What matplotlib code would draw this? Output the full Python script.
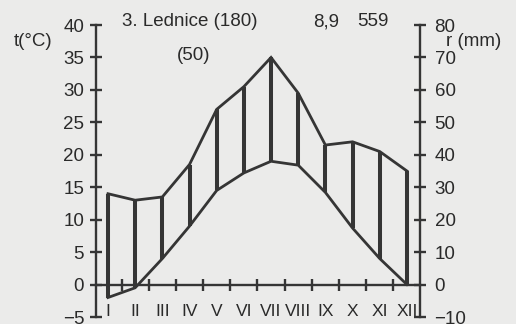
import matplotlib.pyplot as plt
import numpy as np

plt.rcParams['font.family'] = ['Liberation Sans', 'DejaVu Sans']

months = ['I', 'II', 'III', 'IV', 'V', 'VI', 'VII', 'VIII', 'IX', 'X', 'XI', 'XII']
temp = [-2.0, -0.5, 4.0, 9.0, 14.5, 17.2, 19.0, 18.4, 14.2, 8.7, 4.0, 0.0]
rain = [28, 26, 27, 37, 54, 61, 70, 59, 43, 44, 41, 35]

station = '3. Lednice (180)'
years = '(50)'
mean_temp = '8,9'
total_rain = '559'

ink = '#353535'
tc = '#2a2a2a'
bg = '#ebebea'

x = np.arange(1, 13)

fig = plt.figure(figsize=(5.16, 3.24), dpi=100, facecolor=bg)
ax = fig.add_axes([96 / 516, 1 - 317 / 324, 324 / 516, 292 / 324])
ax.set_facecolor('none')
ax2 = ax.twinx()

ax.set_xlim(0.56, 12.48)
ax.set_ylim(-5, 40)
ax2.set_ylim(-10, 80)

# temperature and rainfall curves (rain on 2:1 scale)
ax.plot(x, temp, color=ink, lw=2.0, solid_joinstyle='miter')
ax2.plot(x, rain, color=ink, lw=2.0, solid_joinstyle='miter')
ax2.vlines(x, np.array(temp) * 2, rain, color=ink, lw=2.9)

# axes styling
for a in (ax, ax2):
    a.spines['top'].set_visible(False)
    for s in ('left', 'right', 'bottom'):
        a.spines[s].set_color(ink)
        a.spines[s].set_linewidth(1.7)
ax.spines['right'].set_visible(False)
ax2.spines['left'].set_visible(False)
ax2.spines['bottom'].set_visible(False)
ax.spines['bottom'].set_position(('data', 0))

ax.set_yticks(np.arange(-5, 41, 5))
ax2.set_yticks(np.arange(-10, 81, 10))
ax.tick_params(axis='y', direction='inout', length=9, width=1.7, color=ink,
               labelsize=13.5, labelcolor=tc, pad=4)
ax2.tick_params(axis='y', direction='inout', length=9, width=1.7, color=ink,
                labelsize=13.5, labelcolor=tc, pad=6)

ax.set_xticks(x)
ax.set_xticklabels(months)
ax.set_xticks(np.arange(1.5, 12, 1), minor=True)
ax.tick_params(axis='x', which='major', length=0, labelsize=12.5,
               labelcolor=tc, pad=14)
ax.tick_params(axis='x', which='minor', direction='inout', length=9,
               width=1.7, color=ink)

fig.text(33 / 516, 1 - 42 / 324, 't(°C)', ha='center', va='center', fontsize=13.5, color=tc)
fig.text(190 / 516, 1 - 22 / 324, station, ha='center', va='center', fontsize=13.5, color=tc)
fig.text(194 / 516, 1 - 55 / 324, years, ha='center', va='center', fontsize=13.5, color=tc)
fig.text(326 / 516, 1 - 22 / 324, mean_temp, ha='center', va='center', fontsize=13.5, color=tc)
fig.text(373 / 516, 1 - 22 / 324, total_rain, ha='center', va='center', fontsize=13.5, color=tc)
fig.text(474 / 516, 1 - 41 / 324, 'r (mm)', ha='center', va='center', fontsize=13.5, color=tc)

fig.savefig('out.png', dpi=100, facecolor=bg)
